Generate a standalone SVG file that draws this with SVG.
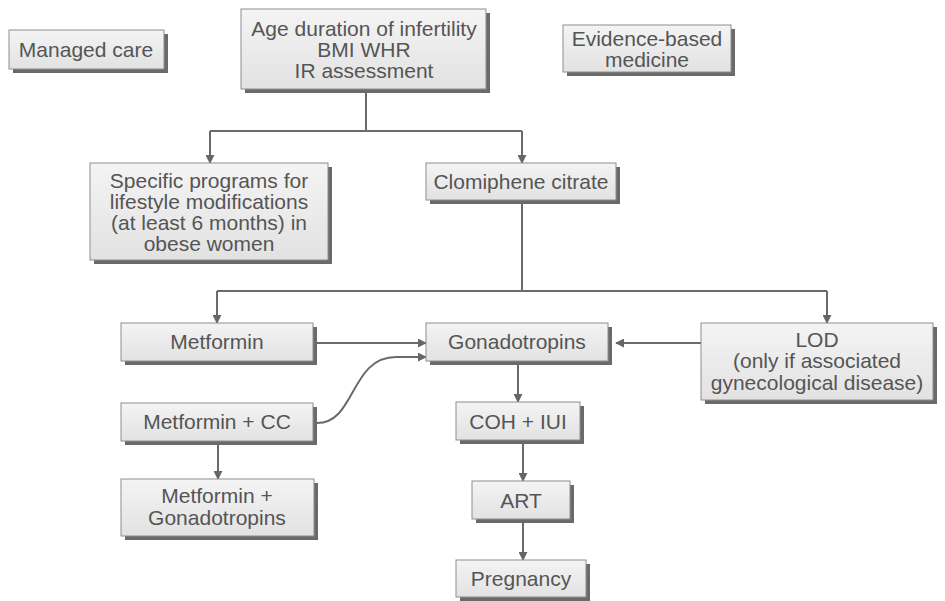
<svg xmlns="http://www.w3.org/2000/svg" width="945" height="601" viewBox="0 0 945 601">
<defs>
<linearGradient id="g" x1="0" y1="0" x2="0" y2="1">
<stop offset="0" stop-color="#f4f4f4"/>
<stop offset="1" stop-color="#e2e2e2"/>
</linearGradient>
<marker id="ah" viewBox="0 0 10 10" refX="9" refY="5" markerWidth="9" markerHeight="9" markerUnits="userSpaceOnUse" orient="auto">
<path d="M0,0 L10,5 L0,10 Z" fill="#666"/>
</marker>
</defs>
<style>
.sh{fill:#6a6a6a}
.bx{fill:url(#g);stroke:#8e8e8e;stroke-width:1}
text{font-family:"Liberation Sans",Arial,sans-serif;font-size:21px;fill:#555;text-anchor:middle}
.c{fill:none;stroke:#6a6a6a;stroke-width:2}
.a{fill:none;stroke:#6a6a6a;stroke-width:2;marker-end:url(#ah)}
</style>
<rect width="945" height="601" fill="#fff"/>
<g id="connectors">
<path class="c" d="M366,93 V131"/>
<path class="c" d="M210,131 H522"/>
<path class="a" d="M210,131 V163"/>
<path class="a" d="M522,131 V163"/>
<path class="c" d="M522,204 V291"/>
<path class="c" d="M217,291 H827"/>
<path class="a" d="M217,291 V323"/>
<path class="a" d="M827,291 V323"/>
<path class="a" d="M317,343 H426"/>
<path class="a" d="M701,343 H616"/>
<path class="a" d="M317,423 C356,423 350,357 396,357 H426"/>
<path class="a" d="M218,445 V479"/>
<path class="a" d="M518,365 V402"/>
<path class="a" d="M523,444 V481"/>
<path class="a" d="M523,523 V560"/>
</g>
<g id="managed-care">
<rect class="sh" x="13" y="34" width="155" height="39"/>
<rect class="bx" x="9" y="30" width="155" height="39"/>
<text x="86" y="57">Managed care</text>
</g>
<g id="assessment">
<rect class="sh" x="245" y="13" width="245" height="80"/>
<rect class="bx" x="241" y="9" width="245" height="80"/>
<text x="364" y="36">Age duration of infertility</text>
<text x="364" y="57">BMI WHR</text>
<text x="364" y="78">IR assessment</text>
</g>
<g id="evidence">
<rect class="sh" x="567" y="29" width="168" height="47"/>
<rect class="bx" x="563" y="25" width="168" height="47"/>
<text x="647" y="46">Evidence-based</text>
<text x="647" y="67">medicine</text>
</g>
<g id="lifestyle">
<rect class="sh" x="94" y="167" width="238" height="97"/>
<rect class="bx" x="90" y="163" width="238" height="97"/>
<text x="209" y="188">Specific programs for</text>
<text x="209" y="209">lifestyle modifications</text>
<text x="209" y="230">(at least 6 months) in</text>
<text x="209" y="251">obese women</text>
</g>
<g id="clomiphene">
<rect class="sh" x="430" y="167" width="190" height="37"/>
<rect class="bx" x="426" y="163" width="190" height="37"/>
<text x="521" y="189">Clomiphene citrate</text>
</g>
<g id="metformin">
<rect class="sh" x="125" y="327" width="192" height="38"/>
<rect class="bx" x="121" y="323" width="192" height="38"/>
<text x="217" y="349">Metformin</text>
</g>
<g id="gonadotropins">
<rect class="sh" x="430" y="327" width="182" height="38"/>
<rect class="bx" x="426" y="323" width="182" height="38"/>
<text x="517" y="349">Gonadotropins</text>
</g>
<g id="lod">
<rect class="sh" x="705" y="327" width="232" height="77"/>
<rect class="bx" x="701" y="323" width="232" height="77"/>
<text x="817" y="347">LOD</text>
<text x="817" y="368">(only if associated</text>
<text x="817" y="390">gynecological disease)</text>
</g>
<g id="metformin-cc">
<rect class="sh" x="125" y="407" width="192" height="38"/>
<rect class="bx" x="121" y="403" width="192" height="38"/>
<text x="217" y="429">Metformin + CC</text>
</g>
<g id="metformin-gonadotropins">
<rect class="sh" x="125" y="483" width="193" height="57"/>
<rect class="bx" x="121" y="479" width="193" height="57"/>
<text x="217" y="503">Metformin +</text>
<text x="217" y="525">Gonadotropins</text>
</g>
<g id="coh-iui">
<rect class="sh" x="460" y="406" width="124" height="38"/>
<rect class="bx" x="456" y="402" width="124" height="38"/>
<text x="518" y="429">COH + IUI</text>
</g>
<g id="art">
<rect class="sh" x="476" y="485" width="98" height="38"/>
<rect class="bx" x="472" y="481" width="98" height="38"/>
<text x="521" y="508">ART</text>
</g>
<g id="pregnancy">
<rect class="sh" x="460" y="564" width="130" height="37"/>
<rect class="bx" x="456" y="560" width="130" height="37"/>
<text x="521" y="586">Pregnancy</text>
</g>
</svg>
